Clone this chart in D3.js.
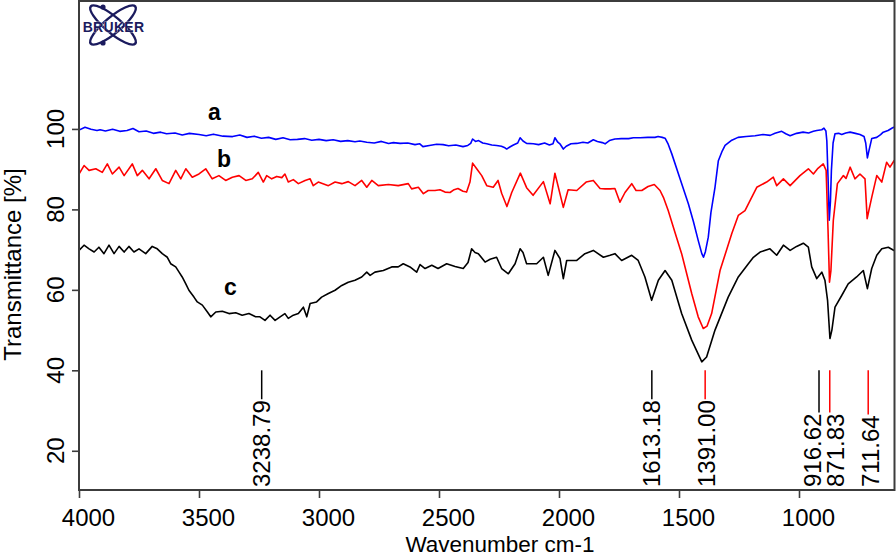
<!DOCTYPE html>
<html><head><meta charset="utf-8">
<script src="https://cdn.jsdelivr.net/npm/d3@7/dist/d3.min.js"></script>
<style>html,body{margin:0;padding:0;background:#fff;} svg{display:block;font-family:"Liberation Sans",Arial,sans-serif;}</style>
</head><body><svg id="chart" width="896" height="557"></svg>
<script>
// ---- data ----
const xTicks = [4000, 3500, 3000, 2500, 2000, 1500, 1000];
const yTicks = [20, 40, 60, 80, 100];
const seriesNames = ["a", "b", "c"];
const seriesColors = ["#0000ff", "#ff0000", "#000000"];

const seriesA = [[4000,99.7],[3975,100.4],[3950,99.9],[3925,99.6],[3912,99.8],[3890,99.5],[3860,99.9],[3830,99.4],[3800,99.6],[3775,100.1],[3750,99.3],[3720,99.5],[3690,98.9],[3660,99.2],[3635,98.8],[3600,99.0],[3570,98.5],[3540,98.9],[3500,98.6],[3470,98.3],[3440,98.7],[3400,98.2],[3360,98.1],[3330,98.5],[3300,97.9],[3270,98.2],[3240,97.7],[3210,97.9],[3180,97.4],[3150,97.8],[3120,97.3],[3090,97.4],[3060,97.6],[3030,97.2],[3000,97.4],[2970,97.1],[2941,97.3],[2910,96.9],[2880,97.1],[2850,96.8],[2830,97.0],[2801,96.7],[2770,96.5],[2740,96.9],[2710,96.4],[2690,96.6],[2662,96.4],[2630,96.5],[2600,96.1],[2580,96.3],[2567,95.6],[2540,95.9],[2510,96.2],[2483,96.1],[2460,95.8],[2430,96.0],[2400,95.6],[2380,95.9],[2368,96.4],[2360,97.5],[2348,96.9],[2335,97.1],[2318,96.5],[2301,96.3],[2280,96.0],[2260,95.9],[2240,95.7],[2225,95.3],[2218,95.0],[2205,95.5],[2190,96.0],[2172,96.5],[2162,97.8],[2150,97.0],[2135,96.4],[2107,96.3],[2085,96.1],[2060,96.5],[2040,96.0],[2025,96.3],[2017,97.8],[2005,96.7],[1995,96.2],[1982,95.0],[1970,95.7],[1950,96.3],[1926,96.4],[1900,96.7],[1880,96.5],[1857,97.3],[1840,96.9],[1820,96.6],[1808,96.3],[1790,97.1],[1767,97.5],[1740,97.6],[1710,97.6],[1690,97.8],[1662,97.8],[1630,97.9],[1600,97.9],[1587,98.1],[1570,97.9],[1558,97.7],[1545,96.2],[1530,93.8],[1496,87.7],[1461,81.4],[1440,77.0],[1420,72.3],[1405,69.0],[1398,68.1],[1390,69.5],[1378,73.1],[1367,79.2],[1350,85.5],[1336,92.1],[1320,94.5],[1308,95.9],[1280,97.2],[1254,97.9],[1220,98.1],[1183,98.3],[1150,98.6],[1120,98.4],[1100,98.9],[1072,99.4],[1055,98.8],[1037,98.3],[1010,98.9],[983,99.2],[960,99.0],[940,99.4],[926,99.6],[905,99.8],[896,100.2],[888,99.5],[884,97.0],[879,88.0],[874,77.3],[869,82.0],[865,89.7],[858,96.5],[850,98.8],[835,98.9],[822,98.6],[805,99.0],[787,99.2],[765,98.9],[746,98.6],[729,98.1],[722,96.5],[715,92.8],[709,94.5],[697,97.6],[676,97.9],[660,98.6],[649,99.2],[629,99.6],[615,100.1],[607,100.4],[600,100.2]];

const seriesB = [[4000,88.8],[3979,90.9],[3958,89.7],[3930,90.1],[3903,89.2],[3882,91.3],[3861,88.8],[3833,90.5],[3812,88.4],[3778,91.3],[3757,88.4],[3736,89.7],[3708,87.6],[3680,90.1],[3653,87.2],[3625,86.4],[3597,89.7],[3576,87.6],[3555,90.1],[3528,88.0],[3500,88.8],[3472,90.1],[3445,87.6],[3417,88.4],[3389,87.2],[3361,88.0],[3333,88.4],[3305,87.2],[3278,87.6],[3253,89.2],[3232,86.8],[3218,88.4],[3197,87.6],[3176,88.2],[3155,87.9],[3142,88.8],[3128,86.8],[3107,87.4],[3086,86.4],[3058,87.2],[3037,87.6],[3024,85.9],[3003,86.8],[2961,85.9],[2933,86.8],[2905,86.4],[2878,86.9],[2850,85.9],[2822,87.2],[2801,85.5],[2780,87.2],[2753,85.9],[2711,86.2],[2670,85.9],[2628,86.4],[2614,85.1],[2586,85.5],[2565,83.9],[2545,84.7],[2517,84.7],[2496,84.9],[2475,84.3],[2454,84.2],[2437,84.9],[2421,85.2],[2400,84.5],[2385,84.3],[2371,86.8],[2360,91.5],[2343,90.1],[2322,88.4],[2301,85.9],[2274,85.5],[2254,87.2],[2239,84.0],[2217,80.7],[2197,84.2],[2161,89.0],[2135,85.4],[2108,83.5],[2065,86.9],[2037,81.4],[2017,89.0],[1982,80.5],[1962,84.9],[1926,84.7],[1887,86.8],[1857,87.2],[1829,85.2],[1808,85.1],[1787,85.1],[1767,85.2],[1746,81.8],[1725,84.2],[1697,86.4],[1679,84.7],[1655,84.7],[1629,85.7],[1603,86.2],[1579,84.7],[1565,83.0],[1545,79.7],[1517,74.3],[1489,69.0],[1447,59.1],[1420,53.3],[1399,50.4],[1383,51.0],[1364,54.1],[1329,64.8],[1280,74.0],[1253,78.5],[1225,79.7],[1204,82.2],[1176,85.5],[1135,86.8],[1107,88.0],[1093,85.9],[1065,87.6],[1037,85.9],[996,88.4],[961,90.1],[940,88.8],[921,90.2],[899,91.3],[887,89.7],[879,74.8],[873,61.9],[867,64.8],[857,77.3],[840,86.4],[815,88.4],[804,87.7],[787,90.5],[767,87.6],[746,88.8],[725,87.6],[716,77.7],[709,79.7],[697,83.0],[676,88.4],[655,86.8],[635,91.7],[621,90.5],[604,92.1],[600,91.5]];

const seriesC = [[4000,69.8],[3979,71.1],[3958,70.2],[3937,69.4],[3917,70.6],[3896,69.0],[3875,71.1],[3854,69.0],[3833,70.8],[3812,69.4],[3792,70.8],[3771,69.4],[3750,70.2],[3722,69.0],[3695,70.8],[3674,70.2],[3653,69.0],[3632,68.1],[3618,66.5],[3597,65.7],[3583,64.4],[3570,63.2],[3555,61.5],[3542,59.9],[3521,58.2],[3507,57.0],[3486,56.2],[3465,54.5],[3451,53.3],[3430,54.5],[3403,54.7],[3375,54.1],[3347,54.3],[3320,53.7],[3292,54.1],[3264,53.3],[3246,53.3],[3225,52.4],[3204,53.7],[3183,52.4],[3162,53.3],[3142,54.1],[3128,52.9],[3107,53.7],[3086,54.1],[3065,55.7],[3051,53.3],[3037,56.6],[3010,57.0],[2989,58.2],[2961,59.1],[2933,59.9],[2905,61.1],[2878,61.9],[2850,62.4],[2822,63.2],[2801,64.4],[2787,63.6],[2767,64.4],[2732,64.8],[2697,65.7],[2670,65.7],[2649,66.5],[2621,65.7],[2593,64.4],[2579,66.3],[2558,65.3],[2530,66.1],[2504,65.3],[2468,66.5],[2433,65.8],[2399,65.3],[2379,66.8],[2364,70.2],[2350,69.3],[2336,69.0],[2308,66.9],[2287,67.6],[2260,68.1],[2239,65.3],[2211,64.0],[2183,66.5],[2162,70.2],[2150,69.3],[2135,66.5],[2093,66.5],[2065,68.1],[2045,63.6],[2017,69.8],[1996,67.8],[1982,62.8],[1968,67.3],[1926,67.3],[1892,69.0],[1857,69.8],[1815,68.1],[1787,68.6],[1767,69.0],[1739,67.3],[1697,68.6],[1670,67.3],[1642,63.2],[1614,57.4],[1586,62.4],[1558,64.8],[1530,62.4],[1489,54.1],[1447,47.5],[1405,42.1],[1385,43.3],[1350,50.0],[1295,58.2],[1253,63.2],[1211,66.5],[1190,68.1],[1162,69.4],[1121,70.2],[1093,68.6],[1065,71.1],[1037,69.8],[1010,70.8],[982,71.6],[961,70.6],[947,65.7],[926,62.8],[905,64.4],[892,62.4],[881,57.4],[871,47.9],[863,50.0],[850,55.7],[822,58.6],[795,61.5],[760,63.2],[732,64.8],[715,60.3],[697,65.3],[676,68.6],[655,70.2],[628,70.6],[604,69.8],[600,69.8]];

const peakPositions = [3238.79, 1613.18, 1391.00, 916.62, 871.83, 711.64];
const peakLabels = ["3238.79", "1613.18", "1391.00", "916.62", "871.83", "711.64"];
const peakSeries = [2, 2, 1, 2, 1, 1];
const xTitle = "Wavenumber cm-1";
const yTitle = "Transmittance [%]";

// ---- layout ----
const L = 79, R = 894.5, T = 1, B = 490;
const x = d3.scaleLinear().domain([4000, 600]).range([L, 895]);
const y = d3.scaleLinear().domain([10.25, 131.8]).range([B, T]);
const peakTop = 40;
const peakDx = {"916.62": -6, "871.83": 6, "711.64": 2.5, "1391.00": 1};
const seriesLabelPos = [[214.5, 119.5], [224, 167], [230.5, 295]];

const svg = d3.select("#chart");
const axisColor = "#3c3c3c";

svg.append("defs").append("clipPath").attr("id", "plotclip")
  .append("rect").attr("x", L).attr("y", T).attr("width", R - L).attr("height", B - T);

// series
const line = d3.line().x(d => x(d[0])).y(d => y(d[1]));
const seriesData = [seriesA, seriesB, seriesC];
svg.append("g").attr("clip-path", "url(#plotclip)")
  .selectAll("path").data(seriesData).join("path")
  .attr("d", line).attr("fill", "none")
  .attr("stroke", (d, i) => seriesColors[i])
  .attr("stroke-width", 1.6).attr("stroke-linejoin", "round");

// x axis
const xAxis = svg.append("g").attr("transform", `translate(0,${B})`)
  .call(d3.axisBottom(x).tickValues(xTicks).tickSize(8).tickPadding(11).tickFormat(d3.format("d")));
xAxis.select(".domain").remove();
xAxis.selectAll(".tick line").attr("stroke", axisColor).attr("stroke-width", 1.6);
xAxis.selectAll(".tick text").attr("font-size", 24).attr("fill", "#000").attr("dx", 9)
  .attr("font-family", '"Liberation Sans", Arial, sans-serif');

// y axis
const yAxis = svg.append("g").attr("transform", `translate(${L},0)`)
  .call(d3.axisLeft(y).tickValues(yTicks).tickSize(7).tickFormat(""));
yAxis.select(".domain").remove();
yAxis.selectAll(".tick line").attr("stroke", axisColor).attr("stroke-width", 1.6);
svg.append("g").selectAll("text").data(yTicks).join("text")
  .attr("transform", d => `translate(63.5,${y(d)}) rotate(-90)`)
  .attr("text-anchor", "middle").attr("font-size", 24).attr("fill", "#000")
  .text(d => d);

// frame
svg.append("path")
  .attr("d", `M${L},${T}H${R}V${B}H${L}Z`)
  .attr("fill", "none").attr("stroke", axisColor).attr("stroke-width", 2);

// titles
svg.append("text").attr("x", 500).attr("y", 552).attr("text-anchor", "middle")
  .attr("font-size", 22.5).attr("fill", "#000").text(xTitle);
svg.append("text").attr("transform", "translate(20.5,264.5) rotate(-90)")
  .attr("text-anchor", "middle").attr("font-size", 24).attr("fill", "#000").text(yTitle);

// peak labels
const pk = svg.append("g");
peakPositions.forEach((p, i) => {
  const col = seriesColors[peakSeries[i]];
  const t = pk.append("text")
    .attr("transform", `translate(${x(p) + (peakDx[peakLabels[i]] || 0)},487) rotate(-90)`)
    .attr("dy", "0.35em").attr("font-size", 24).attr("fill", "#000")
    .text(peakLabels[i]);
  const len = t.node().getComputedTextLength();
  pk.append("line").attr("x1", x(p)).attr("x2", x(p))
    .attr("y1", y(peakTop)).attr("y2", 487 - len - 1)
    .attr("stroke", col).attr("stroke-width", 1.5);
});

// series letters
svg.append("g").selectAll("text").data(seriesNames).join("text")
  .attr("x", (d, i) => seriesLabelPos[i][0]).attr("y", (d, i) => seriesLabelPos[i][1])
  .attr("text-anchor", "middle").attr("font-size", 23).attr("font-weight", "bold")
  .attr("fill", "#000").text(d => d);

// Bruker logo
const logo = svg.append("g").attr("transform", "translate(113,25)");
const navy = "#1b1b5e";
[40, -40].forEach(a => {
  logo.append("ellipse").attr("rx", 29).attr("ry", 8).attr("transform", `rotate(${a})`)
    .attr("fill", "none").attr("stroke", navy).attr("stroke-width", 2.4);
});
[[-10, -18], [-10, 18]].forEach(c => {
  logo.append("circle").attr("cx", c[0]).attr("cy", c[1]).attr("r", 2.6).attr("fill", navy);
});
logo.append("text").attr("x", 0.5).attr("y", 6.5).attr("text-anchor", "middle")
  .attr("font-size", 14).attr("font-weight", "bold").attr("fill", navy)
  .attr("stroke", "#fff").attr("stroke-width", 0.6).attr("paint-order", "stroke")
  .attr("letter-spacing", 0.3).text("BRUKER");
</script></body></html>
